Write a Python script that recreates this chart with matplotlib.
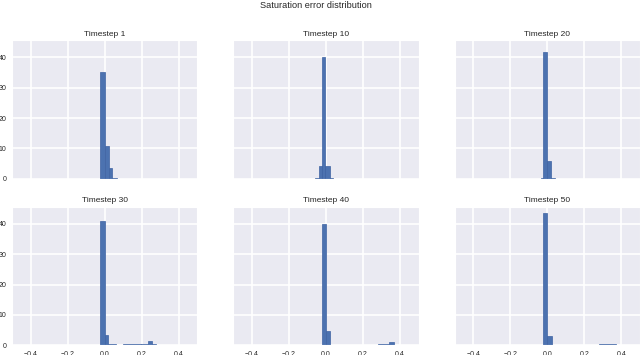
import matplotlib
matplotlib.use("Agg")
import matplotlib.pyplot as plt
import seaborn as sns

sns.set_style("darkgrid")
plt.rcParams['font.family'] = ['Liberation Sans', 'DejaVu Sans']

suptitle = "Saturation error distribution"
panel_titles = ["Timestep 1", "Timestep 10", "Timestep 20",
                "Timestep 30", "Timestep 40", "Timestep 50"]

# Histogram bars (density) for each panel: bin starts, bin ends, heights
t1_start = [-0.022, 0.000, 0.022, 0.043]
t1_end = [0.000, 0.022, 0.043, 0.065]
t1_height = [35.0, 10.8, 3.4, 0.3]

t10_start = [-0.058, -0.040, -0.022]
t10_end = [0.036, 0.020, -0.004]
t10_height = [0.4, 4.05, 40.2]

t20_start = [-0.036, -0.022, 0.000]
t20_end = [0.038, 0.000, 0.020]
t20_height = [0.3, 41.7, 5.7]

t30_start = [-0.022, 0.000, 0.020, 0.100, 0.199, 0.235, 0.257]
t30_end = [0.000, 0.020, 0.060, 0.199, 0.235, 0.257, 0.276]
t30_height = [41.0, 3.3, 0.3, 0.3, 0.55, 1.5, 0.3]

t40_start = [-0.020, 0.000, 0.020, 0.205, 0.281, 0.341, 0.365]
t40_end = [0.000, 0.020, 0.120, 0.281, 0.341, 0.365, 0.460]
t40_height = [39.9, 4.7, 0.25, 0.25, 0.45, 1.0, 0.25]

t50_start = [-0.023, 0.000, 0.280, 0.371]
t50_end = [0.000, 0.022, 0.371, 0.478]
t50_height = [43.5, 3.2, 0.45, 0.25]

x_ticks = [-0.4, -0.2, 0.0, 0.2, 0.4]
y_ticks = [0, 10, 20, 30, 40]

panels = [(t1_start, t1_end, t1_height), (t10_start, t10_end, t10_height),
          (t20_start, t20_end, t20_height), (t30_start, t30_end, t30_height),
          (t40_start, t40_end, t40_height), (t50_start, t50_end, t50_height)]

fig, axes = plt.subplots(2, 3, figsize=(6.4, 3.55), dpi=100, sharex=True, sharey=True)
fig.subplots_adjust(left=12/640, right=1.0, top=1-40/355, bottom=1-345.3/355,
                    wspace=0.197, hspace=0.2)

bar_color = "#4C72B0"
for ax, title, (s, e, h) in zip(axes.flat, panel_titles, panels):
    widths = [b - a for a, b in zip(s, e)]
    ax.bar(s, h, width=widths, align='edge', color=bar_color,
           edgecolor="#3F63A3", linewidth=0.5)
    ax.set_title(title, fontsize=6, color=".15", pad=3)
    ax.grid(True, color="white", linewidth=1.2)
    ax.set_axisbelow(True)
    ax.tick_params(axis='both', labelsize=5, colors=".15", length=0, pad=4)

axes[0, 0].set_xlim(-0.5, 0.5)
axes[0, 0].set_xticks(x_ticks)
axes[0, 0].set_yticks(y_ticks)

fig.suptitle(suptitle, x=0.493, y=0.998, fontsize=6.6, color=".15", va='top')

fig.savefig("out.png", dpi=100)
